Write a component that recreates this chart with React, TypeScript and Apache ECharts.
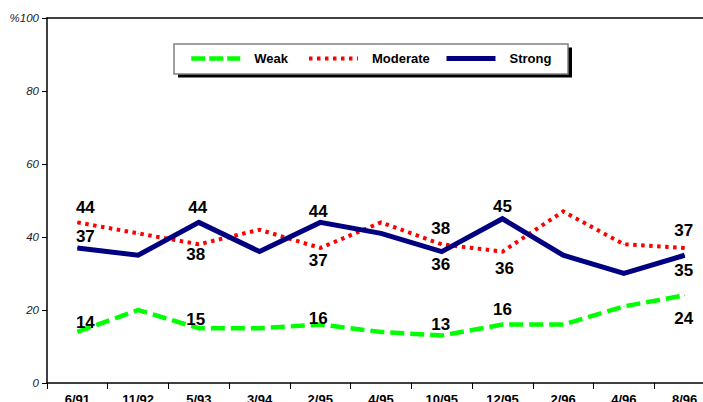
import React, { useEffect, useRef } from "react";
import * as echarts from "echarts";

// Survey waves and share (%) in each group
const categories = ["6/91", "11/92", "5/93", "3/94", "2/95", "4/95", "10/95", "12/95", "2/96", "4/96", "8/96"];
const weak = [14, 20, 15, 15, 16, 14, 13, 16, 16, 21, 24];
const moderate = [44, 41, 38, 42, 37, 44, 38, 36, 47, 38, 37];
const strong = [37, 35, 44, 36, 44, 41, 36, 45, 35, 30, 35];
const yTicks = [0, 20, 40, 60, 80, 100];

// Waves whose values are printed next to the lines
const labelledPoints = [0, 2, 4, 6, 7, 10];

// Per-series label nudges (px) for the labelled waves, in the same order
const weakOffsets = [[8, -9], [-3, -9], [-2, -6], [-1, -11], [0, -15], [-1, 23]];
const strongOffsets = [[8, -11], [-1, -15], [-2, -11], [-1, 13], [0, -12], [-1, 15]];
const moderateOffsets = [[8, -15], [-3, 10], [-2, 13], [-1, -16], [2, 17], [-1, -17]];

const FONT = 'Arial, "Liberation Sans", Helvetica, sans-serif';

const WEAK_COLOR = "#00ff00";
const MODERATE_COLOR = "#ff0000";
const STRONG_COLOR = "#000080";

function buildData(values: number[], offsets: number[][]) {
  return values.map((v, i) => {
    const k = labelledPoints.indexOf(i);
    if (k < 0) return v;
    return { value: v, label: { show: true, offset: offsets[k] } };
  });
}

function lineSeries(name: string, values: number[], offsets: number[][], color: string, width: number, dash: any) {
  return {
    name,
    type: "line",
    data: buildData(values, offsets),
    symbol: "circle",
    symbolSize: 1,
    itemStyle: { color },
    lineStyle: { color, width, type: dash, cap: "butt", join: "miter" },
    label: {
      show: false,
      position: "inside",
      color: "#000",
      fontSize: 17,
      fontWeight: "bold",
      fontFamily: FONT,
    },
    emphasis: { disabled: true },
  };
}

function legendFor(name: string, left: number, color: string, width: number, dash: any) {
  return {
    data: [name],
    left,
    top: 52,
    padding: 0,
    itemWidth: 49,
    itemHeight: 14,
    itemStyle: { opacity: 0 },
    lineStyle: { color, width, type: dash, cap: "butt" },
    selectedMode: false,
    z: 10,
    textStyle: {
      fontSize: 13,
      fontWeight: "bold",
      color: "#000",
      fontFamily: FONT,
      padding: [0, 0, 0, 9],
    },
  };
}

export default function App() {
  const ref = useRef<HTMLDivElement>(null);

  useEffect(() => {
    if (!ref.current) return;
    const chart = echarts.init(ref.current, undefined, { renderer: "svg" });
    chart.setOption({
      animation: false,
      backgroundColor: "#fff",
      grid: { left: 47, top: 18, width: 668, height: 365, outerBoundsMode: "none", containLabel: false },
      legend: [
        legendFor("Weak", 189, WEAK_COLOR, 4.5, [14, 4]),
        legendFor("Moderate", 307, MODERATE_COLOR, 4, [3.5, 4.5]),
        legendFor("Strong", 444, STRONG_COLOR, 5, "solid"),
      ],
      graphic: [
        { type: "rect", z: 1, shape: { x: 178, y: 47.5, width: 394, height: 30 }, style: { fill: "#000" } },
        {
          type: "rect",
          z: 2,
          shape: { x: 174, y: 44, width: 394, height: 30 },
          style: { fill: "#fff", stroke: "#808080", lineWidth: 1.5 },
        },
      ],
      xAxis: [
        {
          type: "category",
          data: categories,
          boundaryGap: true,
          axisLine: { show: true, lineStyle: { color: "#000", width: 1.5 } },
          axisTick: { show: true, length: 6, lineStyle: { color: "#000", width: 1 } },
          axisLabel: {
            interval: 0,
            margin: 10,
            color: "#000",
            fontSize: 13,
            fontWeight: "bold",
            fontFamily: FONT,
          },
          splitLine: { show: false },
        },
        {
          type: "category",
          data: categories,
          position: "top",
          axisLine: { show: true, lineStyle: { color: "#000", width: 1.5 } },
          axisTick: { show: false },
          axisLabel: { show: false },
          splitLine: { show: false },
        },
      ],
      yAxis: {
        type: "value",
        min: yTicks[0],
        max: yTicks[yTicks.length - 1],
        interval: yTicks[1] - yTicks[0],
        axisLine: { show: true, lineStyle: { color: "#000", width: 1.5 } },
        axisTick: { show: true, length: 5, lineStyle: { color: "#000", width: 1 } },
        splitLine: { show: false },
        axisLabel: {
          formatter: (v: number) => (v === 100 ? "%100" : String(v)),
          fontStyle: "italic",
          fontSize: 11.5,
          color: "#222",
          margin: 8,
          fontFamily: FONT,
        },
      },
      series: [
        lineSeries("Weak", weak, weakOffsets, WEAK_COLOR, 4.5, [14, 6]),
        lineSeries("Moderate", moderate, moderateOffsets, MODERATE_COLOR, 4, [3.5, 4.5]),
        lineSeries("Strong", strong, strongOffsets, STRONG_COLOR, 5, "solid"),
      ],
    });
    return () => chart.dispose();
  }, []);

  return (
    <div
      ref={ref}
      style={{ position: "absolute", left: 0, top: 0, width: 703, height: 402, background: "#fff" }}
    />
  );
}
